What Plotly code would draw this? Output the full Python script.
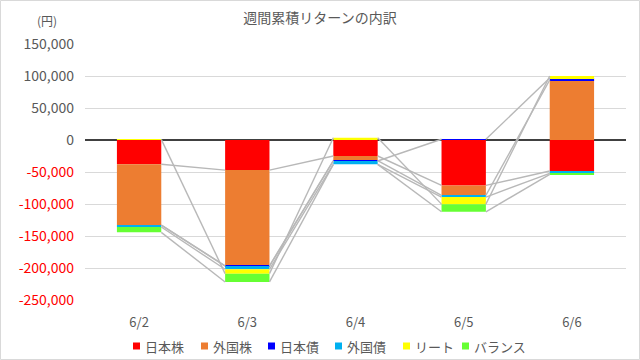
import plotly.graph_objects as go

dates = ["6/2", "6/3", "6/4", "6/5", "6/6"]
series_names = ["日本株", "外国株", "日本債", "外国債", "リート", "バランス"]
colors = ["#FF0000", "#ED7D31", "#0000FF", "#00B0F0", "#FFFF00", "#66FF33"]

jp_stock = [-38000, -47000, -25000, -71000, -48500]
fx_stock = [-95000, -149500, -7300, -15600, 93700]
jp_bond = [0, -500, -500, 1200, 3100]
fx_bond = [-3000, -5000, -5200, -2600, -3600]
reit = [1000, -6800, 3600, -11000, 3100]
balance = [-8300, -13000, 0, -12000, -1500]

data = [jp_stock, fx_stock, jp_bond, fx_bond, reit, balance]

y_ticks = list(range(-250000, 150001, 50000))

bar_w = 0.41
xs = list(range(len(dates)))

fig = go.Figure()

# series lines (Excel style) connecting stack ends between adjacent columns
pos = [0.0] * len(dates)
neg = [0.0] * len(dates)
ends = []
for vals in data:
    e = []
    for j, v in enumerate(vals):
        if v > 0:
            pos[j] += v
            e.append(pos[j])
        else:
            neg[j] += v
            e.append(neg[j])
    ends.append(e)

for e in ends:
    lx, ly = [], []
    for j in range(len(dates) - 1):
        lx += [xs[j] + bar_w / 2, xs[j + 1] - bar_w / 2, None]
        ly += [e[j], e[j + 1], None]
    fig.add_trace(go.Scatter(x=lx, y=ly, mode="lines", showlegend=False,
                             line=dict(color="#B8B8B8", width=1.4), hoverinfo="skip"))

for name, vals, c in zip(series_names, data, colors):
    fig.add_trace(go.Bar(x=xs, y=vals, name=name, marker=dict(color=c, line=dict(width=0)),
                         width=bar_w, showlegend=False))

def fmt(v):
    s = f"{v:,}"
    if v < 0:
        return f'<span style="color:#FF0000">{s}</span>'
    return s

L, T, PW, PH = 85, 44, 541, 256

def px_x(p):
    return (p - L) / PW

def px_y(p):
    return (T + PH - p) / PH

# custom legend (square + label), laid out like the reference
legend_sq_x = [133, 201, 268, 335, 403, 462]
legend_y = 346
shapes = [dict(type="rect", xref="paper", yref="paper",
               x0=-84.5 / PW, x1=1 + 13.5 / PW, y0=-59.5 / PH, y1=1 + 43.5 / PH,
               line=dict(color="#D9D9D9", width=1), layer="below")]
annotations = [dict(text="(円)", xref="paper", yref="paper", x=px_x(47), y=px_y(20),
                    xanchor="center", yanchor="middle", showarrow=False,
                    font=dict(size=12, color="#595959"))]
for sx, name, c in zip(legend_sq_x, series_names, colors):
    shapes.append(dict(type="rect", xref="paper", yref="paper",
                       x0=px_x(sx), x1=px_x(sx + 7), y0=px_y(legend_y + 3.5), y1=px_y(legend_y - 3.5),
                       fillcolor=c, line=dict(width=0)))
    annotations.append(dict(text=name, xref="paper", yref="paper", x=px_x(sx + 10), y=px_y(legend_y),
                            xanchor="left", yanchor="middle", showarrow=False,
                            font=dict(size=13, color="#595959")))

fig.update_layout(
    width=640, height=360,
    barmode="relative",
    paper_bgcolor="white", plot_bgcolor="white",
    margin=dict(l=L, r=640 - L - PW, t=T, b=360 - T - PH, autoexpand=False),
    font=dict(family="Noto Sans CJK JP", color="#595959", size=13),
    title=dict(text="週間累積リターンの内訳", x=0.5, xanchor="center", y=1 - 18 / 360, yanchor="middle",
               font=dict(size=14, color="#595959")),
    showlegend=False,
    xaxis=dict(tickvals=xs, ticktext=dates, range=[-0.5, 4.5], showgrid=False,
               showline=False, ticks="", automargin=False, ticklabelstandoff=13,
               tickfont=dict(size=13, color="#595959")),
    yaxis=dict(range=[-250000, 150000], tickvals=y_ticks, ticktext=[fmt(v) for v in y_ticks],
               showgrid=True, gridcolor="#D9D9D9", gridwidth=1,
               zeroline=True, zerolinecolor="#404040", zerolinewidth=1.5,
               showline=False, ticks="", automargin=False, ticklabelstandoff=10,
               tickfont=dict(size=14, color="#595959")),
    annotations=annotations,
    shapes=shapes,
)

fig.write_html("out.html", config={"displayModeBar": False},
               post_script="document.body.style.margin='0';document.body.style.padding='0';")
